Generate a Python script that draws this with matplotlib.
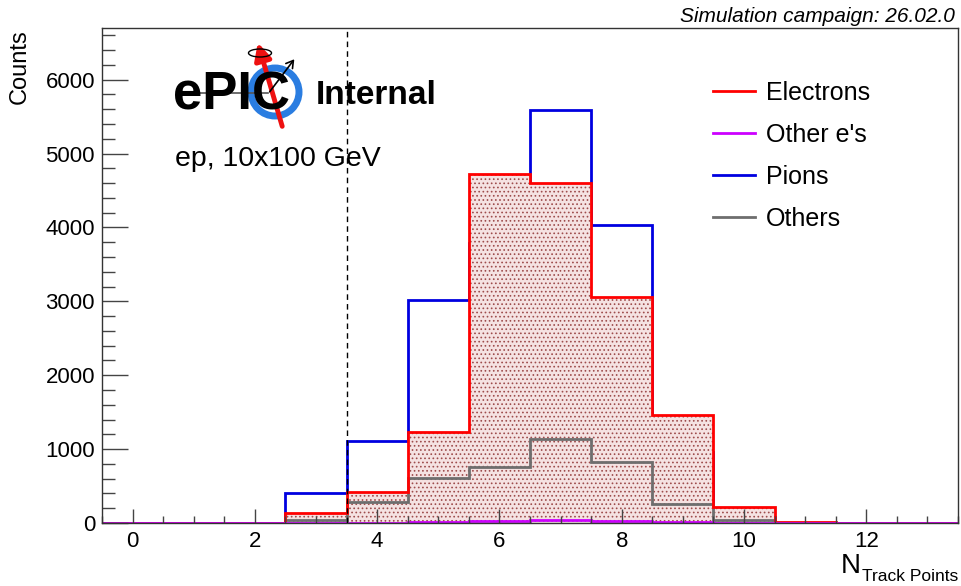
import numpy as np
import matplotlib
matplotlib.use("Agg")
import matplotlib.pyplot as plt
from matplotlib.patches import Ellipse, Circle, FancyArrowPatch
from matplotlib.ticker import MultipleLocator

plt.rcParams['font.family'] = ['Liberation Sans', 'DejaVu Sans']
plt.rcParams['hatch.linewidth'] = 0.7

# ---- data ----
bin_edges = np.arange(-0.5, 14.0, 1.0)
electrons = [0, 0, 0, 135, 420, 1235, 4730, 4605, 3065, 1465, 215, 15, 3, 0]
other_es  = [0, 0, 0, 0, 2, 15, 25, 45, 25, 15, 5, 0, 0, 0]
pions     = [0, 0, 0, 405, 1110, 3020, 3795, 5595, 4035, 955, 85, 0, 0, 0]
others    = [0, 0, 0, 35, 285, 610, 760, 1140, 830, 255, 40, 5, 0, 0]
cut_value = 3.5
labels = ["Electrons", "Other e's", "Pions", "Others"]
colors = ["#ff0000", "#cc00ff", "#0000e0", "#6e6e6e"]

fig = plt.figure(figsize=(9.61, 5.86), dpi=100)
ax = fig.add_axes([102/961, 1-523/586, (958-102)/961, (523-28)/586])

# pions under the fill
ax.stairs(pions, bin_edges, color=colors[2], lw=2, baseline=0)
# electrons fill with dotted pattern
ax.stairs(electrons, bin_edges, fill=True, facecolor="#f5e2e2",
          edgecolor="#9e4c4c", hatch="....", lw=0)
ax.stairs(others, bin_edges, color=colors[3], lw=2)
ax.stairs(electrons, bin_edges, color=colors[0], lw=2)
ax.stairs(other_es, bin_edges, color=colors[1], lw=2)

ax.axvline(cut_value, color="black", ls=(0, (4, 3)), lw=1)

ax.set_xlim(-0.5, 13.5)
ax.set_ylim(0, 6700)
ax.xaxis.set_major_locator(MultipleLocator(2))
ax.xaxis.set_minor_locator(MultipleLocator(0.5))
ax.yaxis.set_major_locator(MultipleLocator(1000))
ax.yaxis.set_minor_locator(MultipleLocator(200))
ax.tick_params(axis='both', which='both', direction='in', top=False, right=False,
               labelsize=16, color='#444444')
ax.tick_params(axis='y', which='major', length=19, width=1, pad=5)
ax.tick_params(axis='y', which='minor', length=9.5, width=1)
ax.tick_params(axis='x', which='major', length=10, width=1, pad=6)
ax.tick_params(axis='x', which='minor', length=5, width=1)
for s in ax.spines.values():
    s.set_color('#333333')
    s.set_linewidth(1)

# legend
handles = [plt.Line2D([], [], color=c, lw=2) for c in colors]
ax.legend(handles, labels, loc='upper left', bbox_to_anchor=(0.687, 0.938),
          frameon=False, fontsize=18, handlelength=1.7, handletextpad=0.42,
          labelspacing=0.72)

# axis titles
fig.text(20/961, 1-29/586, "Counts", rotation=90, ha='center', va='top', fontsize=17)
fig.text(861/961, 1-573/586, "N", ha='right', va='baseline', fontsize=20)
fig.text(958/961, 1-581/586, "Track Points", ha='right', va='baseline', fontsize=12.5)
fig.text(955/961, 1-16/586, "Simulation campaign: 26.02.0", ha='right', va='center',
         fontsize=15, style='italic')

# logo overlay in pixel coordinates
ov = fig.add_axes([0, 0, 1, 1], facecolor='none')
ov.set_xlim(0, 961)
ov.set_ylim(586, 0)
ov.axis('off')
ov.add_patch(Circle((275, 92), 24, fill=False, color='#2a7de1', lw=5))
ov.plot([178, 268], [93, 93], color='#555555', lw=1.2)
ov.text(173, 95, "ePIC", fontsize=38, fontweight='bold', ha='left', va='center',
        color='black')
ov.add_patch(FancyArrowPatch((283, 129), (257, 40), arrowstyle='-|>,head_length=10,head_width=5',
                             color='#ee1111', lw=3.5, mutation_scale=1))
ov.add_patch(FancyArrowPatch((268, 94), (296, 57), arrowstyle='->,head_length=5,head_width=3',
                             color='black', lw=1.2, mutation_scale=1))
ov.add_patch(Ellipse((260, 53), 23, 8, fill=False, color='black', lw=1))
ov.text(316, 95, "Internal", fontsize=24, fontweight='bold', ha='left', va='center')
ov.text(175, 159, "ep, 10x100 GeV", fontsize=20.5, ha='left', va='center')

fig.savefig("out.png", dpi=100)
